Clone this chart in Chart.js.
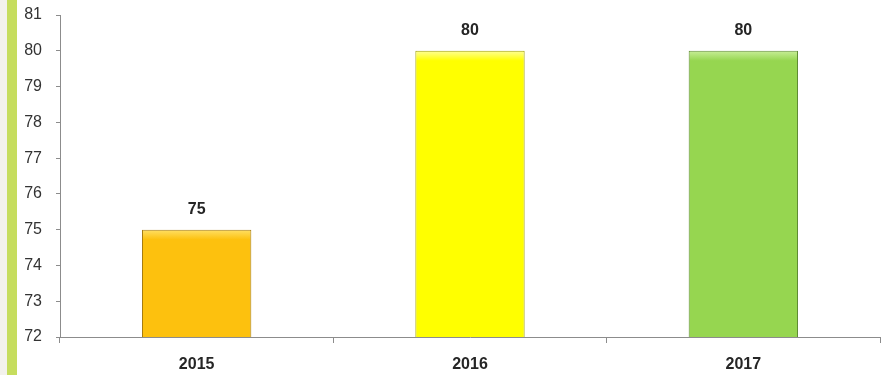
<!DOCTYPE html>
<html>
<head>
<meta charset="utf-8">
<script src="https://cdn.jsdelivr.net/npm/chart.js@4"></script>
<style>
    html, body { margin: 0; padding: 0; background: #fff; }
    #wrap { position: relative; width: 886px; height: 375px; }
    #edge { position: absolute; left: 0; top: 0; width: 7px; height: 375px; background: #f3f2ec; }
    #strip { position: absolute; left: 7px; top: 0; width: 10px; height: 375px; background: #c6dd5e; }
    canvas { position: absolute; left: 0; top: 0; }
</style>
</head>
<body>
<div id="wrap">
    <div id="edge"></div>
    <div id="strip"></div>
    <canvas id="chart" width="886" height="375"></canvas>
</div>
<script>
const years = ['2015', '2016', '2017'];
const values = [75, 80, 80];
const yTicks = [72, 73, 74, 75, 76, 77, 78, 79, 80, 81];
const barColors = ['#fdc10e', '#ffff00', '#96d650'];
const barTops = ['#ffe066', '#ffff99', '#c8ee98'];
const barBorders = ['#a67c12', '#a3a300', '#5f8c34'];

const chartCanvas = document.getElementById('chart');

function barFill(ctx) {
    const chart = ctx.chart;
    const i = ctx.dataIndex;
    if (!chart.chartArea || i === undefined) {
        return barColors[i || 0];
    }
    const top = chart.scales.y.getPixelForValue(values[i]);
    const bottom = chart.scales.y.getPixelForValue(yTicks[0]);
    const g = chart.ctx.createLinearGradient(0, top, 0, bottom);
    const f = Math.min(0.5, 10 / Math.max(1, bottom - top));
    g.addColorStop(0, barTops[i]);
    g.addColorStop(f, barColors[i]);
    g.addColorStop(1, barColors[i]);
    return g;
}

// labels above the bars
const valueLabels = {
    id: 'valueLabels',
    afterDatasetsDraw(chart) {
        const ctx = chart.ctx;
        const meta = chart.getDatasetMeta(0);
        ctx.save();
        ctx.font = 'bold 16px "Liberation Sans", Arial, sans-serif';
        ctx.fillStyle = '#262626';
        ctx.textAlign = 'center';
        ctx.textBaseline = 'middle';
        meta.data.forEach(function (bar, i) {
            ctx.fillText(String(values[i]), bar.x, bar.y - 20);
        });
        ctx.restore();
    }
};

new Chart(chartCanvas, {
    type: 'bar',
    data: {
        labels: years,
        datasets: [{
            data: values,
            backgroundColor: barFill,
            borderColor: barBorders,
            borderWidth: 1,
            categoryPercentage: 1,
            barPercentage: 0.4
        }]
    },
    options: {
        responsive: false,
        animation: false,
        layout: { padding: { top: 15, right: 6, bottom: 0, left: 0 } },
        plugins: {
            legend: { display: false },
            tooltip: { enabled: false }
        },
        scales: {
            x: {
                afterFit: function (scale) {
                    scale.height = 38;
                    scale.paddingLeft = 0;
                    scale.paddingRight = 0;
                },
                grid: {
                    offset: true,
                    drawOnChartArea: false,
                    drawTicks: true,
                    tickLength: 6,
                    color: '#8c8c8c'
                },
                border: { color: '#8c8c8c', width: 1 },
                ticks: {
                    color: '#262626',
                    padding: 12,
                    font: { family: '"Liberation Sans", Arial, sans-serif', size: 16, weight: 'bold' }
                }
            },
            y: {
                min: yTicks[0],
                max: yTicks[yTicks.length - 1],
                afterFit: function (scale) {
                    scale.width = 60;
                    scale.paddingTop = 0;
                    scale.paddingBottom = 0;
                },
                grid: {
                    drawOnChartArea: false,
                    drawTicks: true,
                    tickLength: 4,
                    color: '#8c8c8c'
                },
                border: { color: '#8c8c8c', width: 1 },
                ticks: {
                    stepSize: 1,
                    color: '#333333',
                    padding: 14,
                    font: { family: '"Liberation Sans", Arial, sans-serif', size: 16 }
                }
            }
        }
    },
    plugins: [valueLabels]
});
</script>
</body>
</html>
